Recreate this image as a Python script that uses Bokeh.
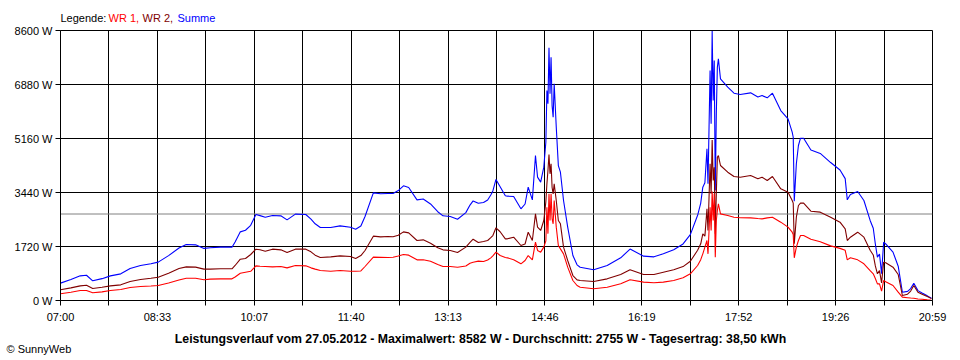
from bokeh.plotting import figure
from bokeh.layouts import column
from bokeh.models import FixedTicker, Span, Range1d, CustomJSTickFormatter
from bokeh.core.properties import value
from bokeh.embed import file_html
from bokeh.resources import INLINE

# ---- data ----
zeit = ["07:00", "07:10", "07:19", "07:25", "07:31", "07:40", "07:48", "07:58", "08:07", "08:17",
        "08:27", "08:34", "08:44", "08:54", "09:01", "09:10", "09:18", "09:24", "09:34", "09:45",
        "09:48", "09:53", "09:58", "10:03", "10:08", "10:12", "10:17", "10:24", "10:32", "10:38",
        "10:46", "10:56", "11:01", "11:05", "11:10", "11:20", "11:29", "11:39", "11:44", "11:49",
        "11:53", "12:01", "12:08", "12:15", "12:20", "12:25", "12:30", "12:35", "12:43", "12:49",
        "12:56", "13:03", "13:08", "13:15", "13:22", "13:30", "13:34", "13:37", "13:42", "13:47",
        "13:51", "13:54", "13:56", "13:59", "14:03", "14:08", "14:10", "14:16", "14:23", "14:27",
        "14:30", "14:34", "14:37", "14:39", "14:42", "14:45", "14:47", "14:48", "14:49", "14:50",
        "14:51", "14:52", "14:53", "14:54", "14:55", "14:57", "14:59", "15:01", "15:04", "15:08",
        "15:13", "15:17", "15:20", "15:33", "15:46", "15:59", "16:08", "16:21", "16:31", "16:40",
        "16:50", "16:59", "17:06", "17:13", "17:16", "17:18", "17:20", "17:22", "17:23", "17:25",
        "17:26", "17:27", "17:28", "17:29", "17:30", "17:31", "17:32", "17:33", "17:35", "17:42",
        "17:48", "17:54", "18:04", "18:11", "18:15", "18:20", "18:25", "18:33", "18:40", "18:44",
        "18:45", "18:46", "18:48", "18:50", "18:52", "18:55", "19:02", "19:11", "19:21", "19:30",
        "19:35", "19:37", "19:40", "19:47", "19:53", "19:59", "20:02", "20:04", "20:06", "20:08",
        "20:10", "20:12", "20:14", "20:21", "20:26", "20:30", "20:35", "20:38", "20:41", "20:45",
        "20:49", "20:54", "20:58"]

wr1 = [213, 265, 318, 320, 245, 276, 318, 350, 414, 446,
       460, 480, 560, 650, 711, 711, 660, 680, 690, 690,
       750, 870, 900, 930, 1104, 1090, 1083, 1072, 1083, 1040,
       1115, 1104, 1040, 1000, 955, 933, 955, 933, 934, 940,
       1083, 1380, 1375, 1370, 1380, 1420, 1465, 1444, 1295, 1300,
       1250, 1147, 1083, 1083, 1060, 1100, 1189, 1220, 1253, 1240,
       1290, 1359, 1420, 1540, 1433, 1370, 1359, 1295, 1168, 1274,
       1433, 1295, 1858, 1593, 1540, 1699, 1900, 2972, 2130, 3400,
       2548, 3397, 2600, 2442, 3185, 2336, 1750, 1645, 1486, 1062,
       637, 478, 424, 372, 424, 531, 660, 584, 563, 584,
       637, 722, 849, 1115, 1300, 1486, 1699, 1911, 1486, 2972,
       2230, 3470, 2548, 3397, 1380, 2548, 2866, 3079, 2760, 2707,
       2654, 2636, 2633, 2610, 2600, 2633, 2654, 2495, 2336, 2176,
       2100, 1359, 1700, 1911, 2070, 2070, 1950, 1870, 1740, 1660,
       1600, 1295, 1359, 1295, 1168, 950, 850, 700, 531, 531,
       297, 637, 600, 478, 265, 106, 90, 80, 74, 50,
       40, 21, 10]

wr2 = [340, 403, 467, 485, 382, 420, 467, 499, 605, 669,
       711, 743, 870, 1020, 1072, 1062, 1000, 998, 1009, 1009,
       1115, 1316, 1337, 1465, 1635, 1614, 1571, 1635, 1614, 1529,
       1635, 1635, 1550, 1444, 1370, 1390, 1422, 1400, 1338, 1430,
       1593, 2049, 2027, 2038, 2030, 2081, 2187, 2155, 1911, 1932,
       1826, 1680, 1614, 1593, 1529, 1699, 1850, 1953, 1847, 1880,
       1911, 2000, 2070, 2315, 2190, 1964, 1964, 2017, 1752, 1800,
       2176, 1911, 2760, 2336, 2230, 2548, 3150, 3716, 4140, 4650,
       4035, 4353, 3600, 3397, 3716, 3185, 2548, 2442, 1699, 1274,
       796, 658, 637, 605, 690, 828, 977, 828, 828, 902,
       980, 1080, 1250, 1600, 1805, 2123, 2050, 2920, 2230, 4353,
       3397, 5112, 3822, 4246, 2123, 3397, 4565, 4618, 4300, 4087,
       3950, 3927, 3981, 3875, 3927, 3822, 3950, 3556, 3450, 3185,
       3100, 1805, 2654, 3026, 3100, 3100, 2845, 2814, 2654, 2495,
       2283, 1911, 2017, 2176, 2017, 1600, 1450, 1100, 850, 950,
       560, 1221, 1200, 1062, 828, 159, 200, 300, 478, 265,
       200, 127, 60]

summe = [a + b for a, b in zip(wr1, wr2)]

x_tick_labels = ["07:00", "08:33", "10:07", "11:40", "13:13",
                 "14:46", "16:19", "17:52", "19:26", "20:59"]
y_ticks = [0, 1720, 3440, 5160, 6880, 8600]
durchschnitt = 2755
legende_texte = ["Legende:", "WR 1,", "WR 2,", "Summe"]
legende_farben = ["black", "#FF0000", "#800000", "#0000FF"]
titel = ("Leistungsverlauf vom 27.05.2012 - Maximalwert: 8582 W - "
         "Durchschnitt: 2755 W - Tagesertrag: 38,50 kWh")
copyright_text = "\u00a9 SunnyWeb"


def to_min(s):
    h, m = s.split(":")
    return (int(h) - 7) * 60 + int(m)


t = [to_min(s) for s in zeit]

X_END = 839
N_GRID = 18
Y_MAX = 8600
FONT = "Liberation Sans"
W = 960
TOP_H, BOT_H = 24, 34


def text_strip(height):
    f = figure(width=W, height=height, x_range=Range1d(0, W), y_range=Range1d(height, 0),
               output_backend="svg", toolbar_location=None, frame_align=False,
               min_border=0, min_border_left=0, min_border_right=0,
               min_border_top=0, min_border_bottom=0)
    f.axis.visible = False
    f.grid.visible = False
    f.outline_line_color = None
    f.background_fill_color = "white"
    f.border_fill_color = "white"
    return f


# ---- top strip: legend text ----
top = text_strip(TOP_H)
top.text(x=[60, 108, 142, 177], y=[17] * 4, text=legende_texte, text_color=legende_farben,
         text_font=value(FONT), text_font_size=value("11px"),
         text_baseline="middle", text_align="left")

# ---- main chart ----
p = figure(frame_width=872, frame_height=270,
           x_range=Range1d(0, X_END), y_range=Range1d(0, Y_MAX),
           output_backend="svg", toolbar_location=None, frame_align=False,
           min_border_left=60, min_border_right=28,
           min_border_top=30 - TOP_H, min_border_bottom=24)
p.background_fill_color = "white"
p.border_fill_color = "white"
p.outline_line_color = "black"
p.outline_line_width = 1

step = X_END / N_GRID
p.xaxis.ticker = FixedTicker(ticks=[i * step for i in range(N_GRID + 1)])
p.xaxis.formatter = CustomJSTickFormatter(args=dict(labels=x_tick_labels, step=step), code="""
const i = Math.round(tick / step);
return (i % 2 == 0) ? labels[i / 2] : "";
""")
p.yaxis.ticker = FixedTicker(ticks=y_ticks)
p.yaxis.formatter = CustomJSTickFormatter(code="return tick.toFixed(0) + ' W';")

for ax in (p.xaxis, p.yaxis):
    ax.axis_line_color = "black"
    ax.major_tick_line_color = "black"
    ax.major_tick_out = 5
    ax.major_tick_in = 0
    ax.minor_tick_line_color = None
    ax.major_label_text_font = FONT
    ax.major_label_text_font_size = "11px"
    ax.major_label_text_color = "black"
p.yaxis.major_label_standoff = 3
p.xaxis.major_label_standoff = 5

p.xgrid.grid_line_color = "black"
p.ygrid.grid_line_color = "black"
p.xgrid.grid_line_alpha = 1
p.ygrid.grid_line_alpha = 1

p.add_layout(Span(location=durchschnitt, dimension="width",
                  line_color="#808080", line_width=1, level="underlay"))

p.line(t, summe, line_color="#0000FF", line_width=1.1)
p.line(t, wr2, line_color="#800000", line_width=1.1)
p.line(t, wr1, line_color="#FF0000", line_width=1.1)

# ---- bottom strip: caption and copyright ----
bot = text_strip(BOT_H)
bot.text(x=[480], y=[337 - 324], text=[titel], text_color="black",
         text_font=value(FONT), text_font_size=value("12.3px"), text_font_style="bold",
         text_baseline="middle", text_align="center")
bot.text(x=[6], y=[347 - 324], text=[copyright_text], text_color="black",
         text_font=value(FONT), text_font_size=value("11px"),
         text_baseline="middle", text_align="left")

layout = column(top, p, bot, spacing=0)
open("out.html", "w").write(file_html(layout, INLINE))
